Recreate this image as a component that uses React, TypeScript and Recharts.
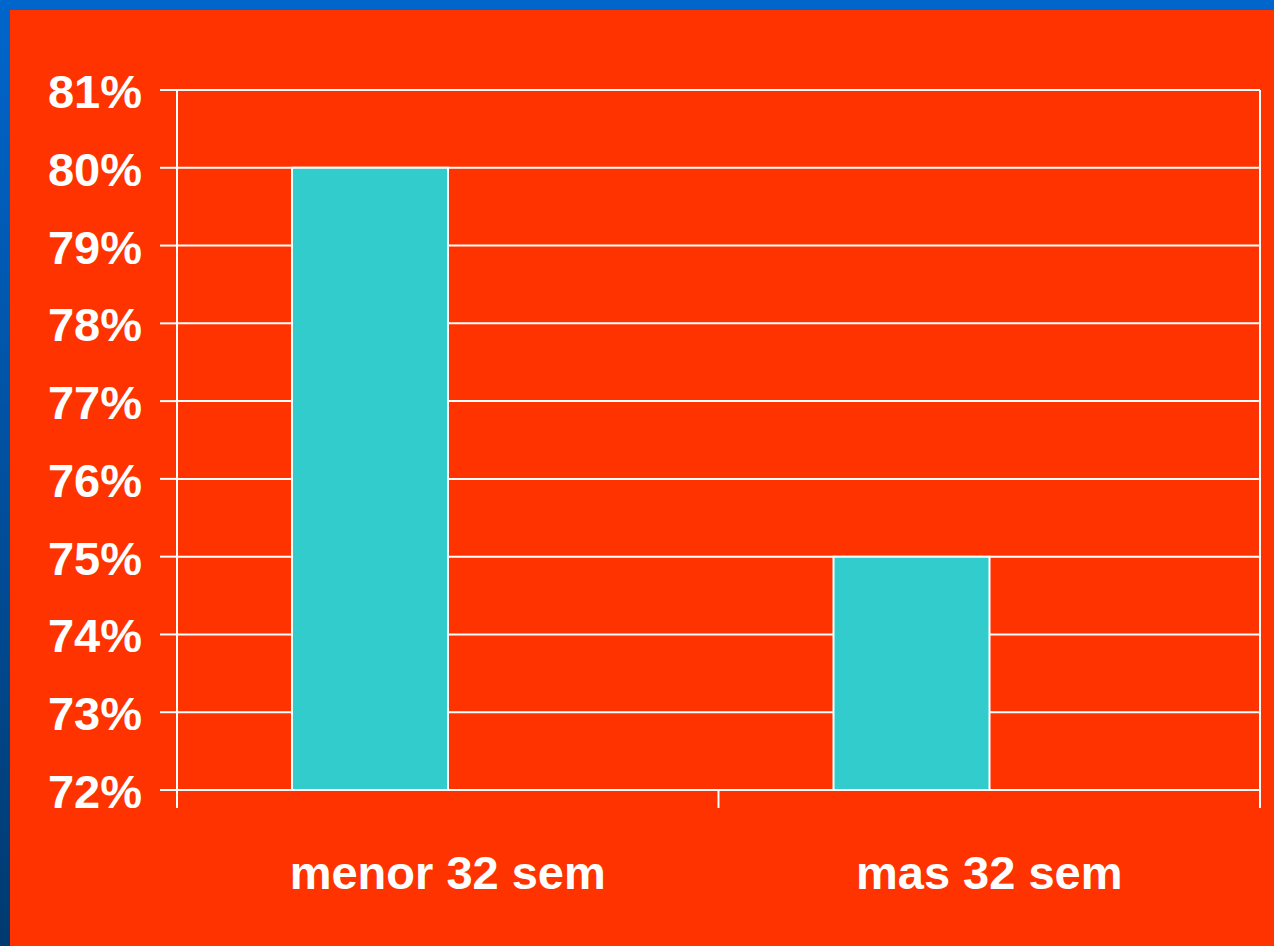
import React from 'react';
import { BarChart, Bar, XAxis, YAxis, CartesianGrid } from 'recharts';

// Datos del gráfico
const categorias = ['menor 32 sem', 'mas 32 sem'];
const porcentajes = [0.8, 0.75];
const serieVacia: (number | null)[] = [null, null]; // segunda serie sin valores (ocupa su hueco)
const ticksY = [0.72, 0.73, 0.74, 0.75, 0.76, 0.77, 0.78, 0.79, 0.8, 0.81];
const limitesX = [0, 1, 2];

const FUENTE = '"Liberation Sans", Arial, sans-serif';
const NARANJA = '#FF3300';
const TURQUESA = '#33CCCC';

const data = categorias.map((categoria, i) => ({
  categoria,
  indice: i,
  valor: porcentajes[i],
  vacio: serieVacia[i],
}));

const TickY = ({ x, y, payload }: any) => (
  <text
    x={x}
    y={y}
    dy={18}
    textAnchor="end"
    fill="#fff"
    fontFamily={FUENTE}
    fontWeight="bold"
    fontSize={47}
  >
    {Math.round(payload.value * 100)}%
  </text>
);

const TickX = ({ x, y, payload }: any) => (
  <text
    x={x}
    y={y}
    dy={98}
    textAnchor="middle"
    fill="#fff"
    fontFamily={FUENTE}
    fontWeight="bold"
    fontSize={47}
  >
    {payload.value}
  </text>
);

const SinEtiqueta = () => <g />;

export default function App() {
  return (
    <div
      style={{
        position: 'absolute',
        left: 0,
        top: 0,
        width: 1274,
        height: 946,
        background: 'linear-gradient(to bottom, #0066cc, #003a70)',
        overflow: 'hidden',
      }}
    >
      <div
        style={{
          position: 'absolute',
          left: 10,
          top: 10,
          width: 1264,
          height: 936,
          background: NARANJA,
        }}
      />
      <div style={{ position: 'absolute', left: 0, top: 0 }}>
        <BarChart
          width={1274}
          height={946}
          data={data}
          margin={{ top: 90, right: 13, bottom: 55, left: 0 }}
          barGap={0}
          barSize={156}
        >
          <CartesianGrid
            xAxisId="cat"
            yAxisId="izq"
            vertical={false}
            stroke="#fff"
            strokeWidth={2}
          />
          <XAxis
            xAxisId="cat"
            dataKey="categoria"
            height={100}
            tickLine={false}
            tickSize={0}
            tickMargin={0}
            axisLine={false}
            tick={<TickX />}
            interval={0}
          />
          <XAxis
            xAxisId="borde"
            type="number"
            dataKey="indice"
            domain={[0, 2]}
            ticks={limitesX}
            allowDataOverflow
            height={1}
            axisLine={false}
            tick={<SinEtiqueta />}
            tickSize={18}
            tickLine={{ stroke: '#fff', strokeWidth: 2 }}
            interval={0}
          />
          <YAxis
            yAxisId="izq"
            width={177}
            domain={[0.72, 0.81]}
            ticks={ticksY}
            allowDataOverflow
            tickSize={17}
            tickMargin={18}
            tickLine={{ stroke: '#fff', strokeWidth: 2 }}
            axisLine={{ stroke: '#fff', strokeWidth: 2 }}
            tick={<TickY />}
            interval={0}
          />
          <YAxis
            yAxisId="der"
            orientation="right"
            width={1}
            domain={[0.72, 0.81]}
            tick={<SinEtiqueta />}
            tickLine={false}
            axisLine={{ stroke: '#fff', strokeWidth: 2 }}
          />
          <Bar
            xAxisId="cat"
            yAxisId="izq"
            dataKey="valor"
            fill={TURQUESA}
            stroke="#fff"
            strokeWidth={2}
            isAnimationActive={false}
          />
          <Bar
            xAxisId="cat"
            yAxisId="izq"
            dataKey="vacio"
            fill={TURQUESA}
            stroke="#fff"
            strokeWidth={2}
            isAnimationActive={false}
          />
        </BarChart>
      </div>
    </div>
  );
}
